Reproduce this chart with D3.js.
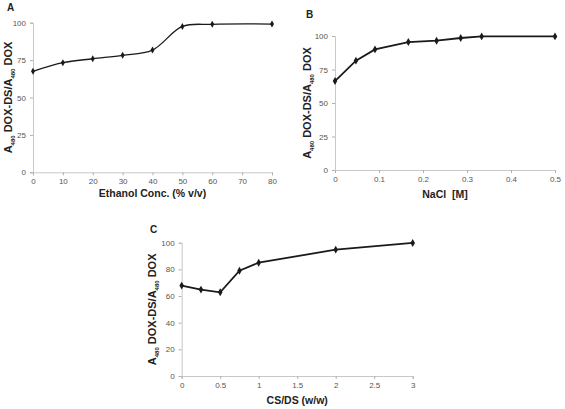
<!DOCTYPE html>
<html><head><meta charset="utf-8">
<script src="https://cdn.jsdelivr.net/npm/d3@7"></script>
<style>body{margin:0;background:#fff}svg{display:block}</style>
</head><body>
<svg id="c" width="565" height="409"></svg>
<script>
// Panel A
const ethanolX = [0, 10, 20, 30, 40, 50, 60, 80];
const ethanolY = [67.5, 73.3, 75.9, 78.2, 81.7, 97.5, 98.9, 99.1];
const ethanolXTicks = [0, 10, 20, 30, 40, 50, 60, 70, 80];
const ethanolYTicks = [0, 25, 50, 75, 100];
// Panel B
const naclX = [0, 0.0476, 0.0909, 0.1667, 0.2308, 0.2857, 0.3333, 0.5];
const naclY = [66.4, 81.6, 90.0, 95.5, 96.5, 98.5, 99.7, 99.7];
const naclXTicks = [0, 0.1, 0.2, 0.3, 0.4, 0.5];
const naclYTicks = [0, 25, 50, 75, 100];
// Panel C
const csdsX = [0, 0.25, 0.5, 0.75, 1, 2, 3];
const csdsY = [67.8, 64.8, 62.8, 79.0, 85.0, 94.8, 99.8];
const csdsXTicks = [0, 0.5, 1, 1.5, 2, 2.5, 3];
const csdsYTicks = [0, 20, 40, 60, 80, 100];

const svg = d3.select("#c");
const FONT = "Liberation Sans, Arial, sans-serif";

function panel(o) {
  const x = d3.scaleLinear().domain(o.xd).range([o.x0, o.x1]);
  const y = d3.scaleLinear().domain([0, 100]).range([o.y0, o.y1]);
  const g = svg.append("g");
  const xa = g.append("g").attr("transform", `translate(0,${o.y0})`)
    .call(d3.axisBottom(x).tickValues(o.xt).tickSize(3).tickPadding(3).tickFormat(d => String(d)));
  const ya = g.append("g").attr("transform", `translate(${o.x0},0)`)
    .call(d3.axisLeft(y).tickValues(o.yt).tickSize(3).tickPadding(4));
  [xa, ya].forEach(a => {
    a.select(".domain").attr("stroke", "#c8c8c8");
    a.selectAll(".tick line").attr("stroke", "#b0b0b0");
    a.selectAll("text").attr("fill", "#555").style("font-family", FONT).style("font-size", "8px");
  });
  const data = o.xs.map((v, i) => [v, o.ys[i]]);
  const line = d3.line().x(d => x(d[0])).y(d => y(d[1])).curve(o.curve || d3.curveLinear);
  g.append("path").attr("d", line(data)).attr("fill", "none").attr("stroke", "#1a1a1a").attr("stroke-width", o.lw);
  const sym = d3.symbol().type(d3.symbolDiamond).size(o.ms);
  g.selectAll(".m").data(data).join("path")
    .attr("transform", d => `translate(${x(d[0])},${y(d[1])})`)
    .attr("d", sym).attr("fill", "#1a1a1a");
  // panel letter
  g.append("text").attr("x", o.lx).attr("y", o.ly).text(o.letter)
    .style("font-family", FONT).style("font-weight", "bold").style("font-size", "10px").attr("fill", "#222");
  // x label
  g.append("text").attr("x", (o.x0 + o.x1) / 2).attr("y", o.xly).attr("text-anchor", "middle")
    .style("font-family", FONT).style("font-weight", "bold").style("font-size", "10.5px").attr("fill", "#222")
    .attr("xml:space", "preserve").text(o.xlabel);
  // y label with subscripts
  const yl = g.append("text").attr("transform", `translate(${o.ylx},${(o.y0 + o.y1) / 2}) rotate(-90)`)
    .attr("text-anchor", "middle")
    .style("font-family", FONT).style("font-weight", "bold").style("font-size", "11px").attr("fill", "#222");
  yl.append("tspan").text("A");
  yl.append("tspan").attr("dy", 3).style("font-size", "6px").text("480");
  yl.append("tspan").attr("dy", -3).text(" DOX-DS/A");
  yl.append("tspan").attr("dy", 3).style("font-size", "6px").text("480");
  yl.append("tspan").attr("dy", -3).text(" DOX");
}

panel({xd: [0, 80], x0: 33, x1: 272, y0: 172.3, y1: 22.7, xt: ethanolXTicks, yt: ethanolYTicks,
  xs: ethanolX, ys: ethanolY, curve: d3.curveCatmullRom, lw: 1.3, ms: 14,
  letter: "A", lx: 7, ly: 11, xlabel: "Ethanol Conc. (% v/v)", xly: 197, ylx: 12});
panel({xd: [0, 0.5], x0: 335, x1: 555, y0: 170, y1: 36, xt: naclXTicks, yt: naclYTicks,
  xs: naclX, ys: naclY, lw: 1.8, ms: 18,
  letter: "B", lx: 306, ly: 18, xlabel: "NaCl  [M]", xly: 198, ylx: 311});
panel({xd: [0, 3], x0: 181.7, x1: 412.7, y0: 376, y1: 242.7, xt: csdsXTicks, yt: csdsYTicks,
  xs: csdsX, ys: csdsY, lw: 1.8, ms: 18,
  letter: "C", lx: 150, ly: 233, xlabel: "CS/DS (w/w)", xly: 404, ylx: 156});
</script>
</body></html>
